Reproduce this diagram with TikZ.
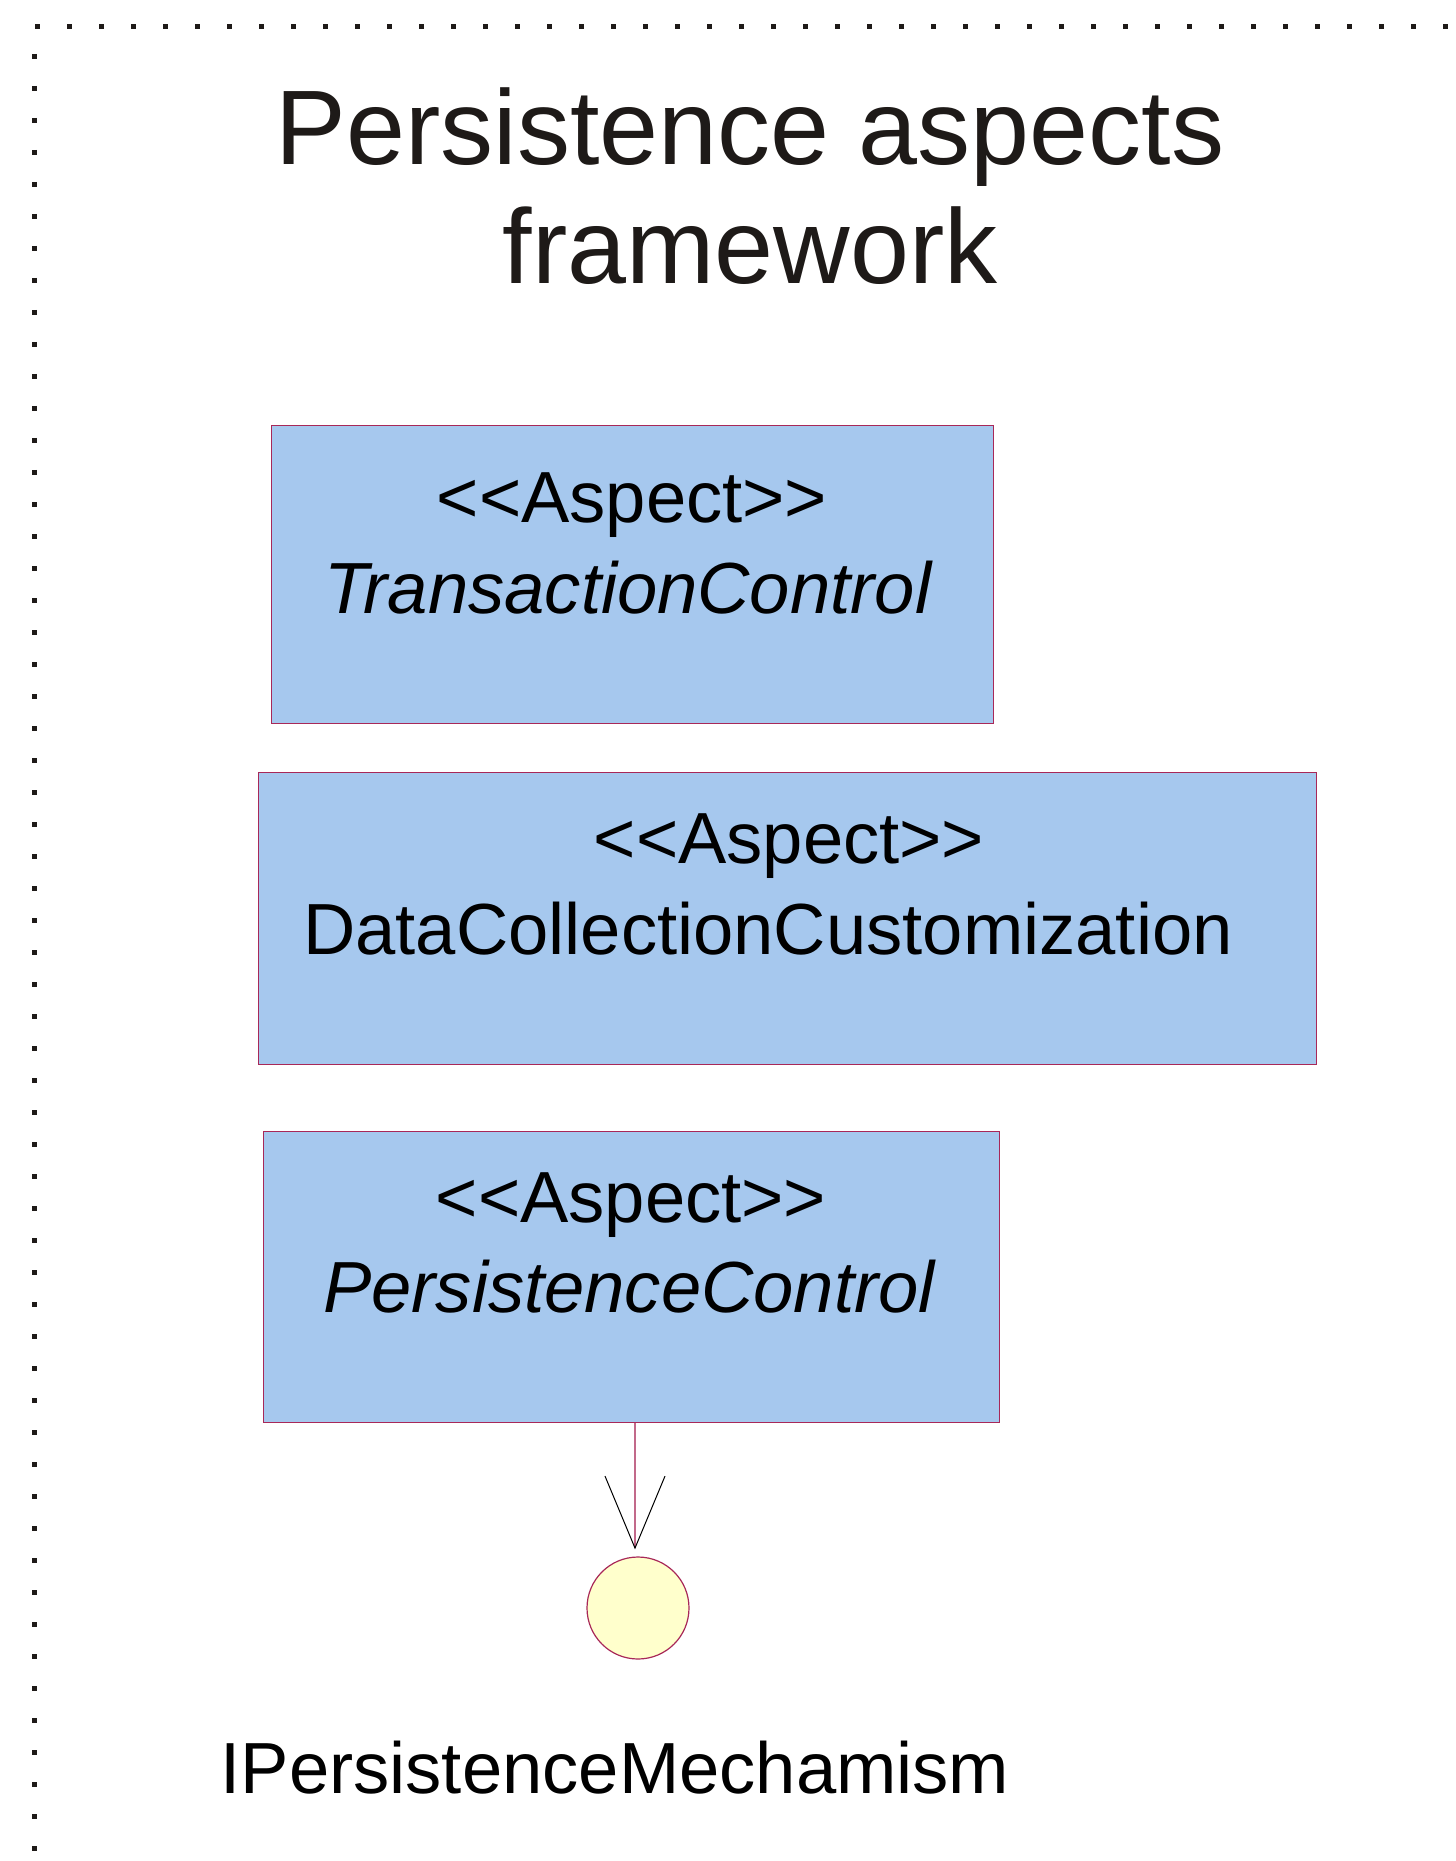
\documentclass[tikz,border=0pt]{standalone}
\usepackage{fontspec}
\setmainfont{Liberation Sans}
\usetikzlibrary{arrows.meta, positioning}
\definecolor{boxfill}{HTML}{A6C8EE}
\definecolor{boxline}{HTML}{A82858}
\definecolor{ifill}{HTML}{FFFFCC}
\definecolor{dotc}{HTML}{1E1A18}
\newcommand{\stereo}{<\kern0pt<Aspect>\kern0pt>}

\begin{document}
\begin{tikzpicture}[x=0.5pt, y=-0.5pt,
    aspect/.style={draw=boxline, line width=0.6pt, fill=boxfill, anchor=north west, inner sep=0pt},
    txt/.style={font=\fontsize{36.2}{43}\selectfont, anchor=base, inner sep=0pt},
    ttl/.style={font=\fontsize{53}{60}\selectfont, anchor=base, inner sep=0pt, text=dotc},
    iface/.style={circle, draw=boxline, line width=0.6pt, fill=ifill, minimum size=51pt, inner sep=0pt},
    frame/.style={dotc, line width=2.5pt, dash pattern=on 2.5pt off 13.5pt},
]
\useasboundingbox (0,0) rectangle (1455,1861);

% === DOTTED FRAME ===
\draw[frame] (35,27) -- (1455,27);
\draw[frame] (34,54) -- (34,1861);

% === TITLE ===
\node[ttl] (title1) at (750,165) {Persistence aspects};
\node[ttl] (title2) at (750,284) {framework};

% === ASPECTS ===
\node[aspect, minimum width=361pt, minimum height=149pt] (tc) at (271,425) {};
\node[txt] (tcster) at (632,523) {\stereo};
\node[txt] (tcname) at (628,613) {\itshape TransactionControl};

\node[aspect, minimum width=529pt, minimum height=146pt] (dc) at (258,772) {};
\node[txt] (dcster) at (789,863) {\stereo};
\node[txt] (dcname) at (768,954) {DataCollectionCustomization};

\node[aspect, minimum width=368pt, minimum height=145.5pt] (pc) at (263,1131) {};
\node[txt] (pcster) at (631,1222) {\stereo};
\node[txt] (pcname) at (629,1312) {\itshape PersistenceControl};

% === INTERFACE ===
\node[iface] (pm) at (638,1608) {};
\node[txt] (pmname) at (615,1793) {IPersistenceMechamism};

\coordinate (tip) at ([xshift=-1.5pt, yshift=3.5pt]pm.north);
\draw[boxline!70, line width=0.8pt, -{Straight Barb[length=36pt, width=30pt, black, line width=0.5pt]}]
    (pc.south -| tip) -- (tip);

\end{tikzpicture}
\end{document}
